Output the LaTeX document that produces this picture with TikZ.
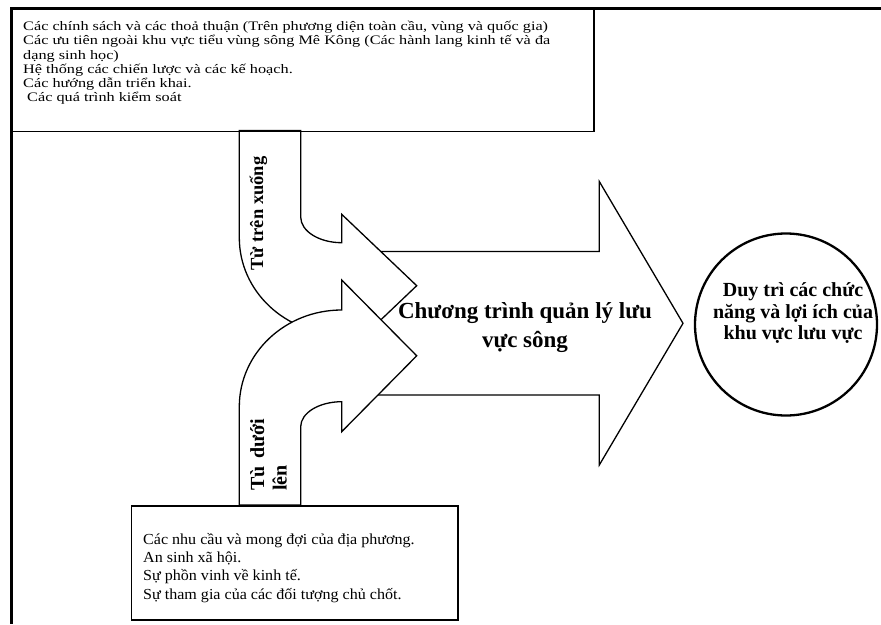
\documentclass[tikz,border=0pt]{standalone}
\usepackage{fontspec}
\setmainfont{Liberation Serif}
\newfontfamily\topboxfont[FakeStretch=1.25]{Liberation Serif}
\newfontfamily\botboxfont[FakeStretch=1.05]{Liberation Serif}
\begin{document}
\begin{tikzpicture}[x=1pt,y=-1pt,
  frameline/.style={line width=2.2pt},
  boxline/.style={draw, line width=1.8pt, inner sep=0pt, anchor=north west},
  arrowshape/.style={draw, fill=white, line width=1.3pt, line join=miter},
  plaintext/.style={inner sep=0pt, align=left, anchor=north west},
  boldtext/.style={inner sep=0pt, align=center, font=\bfseries}
]
\useasboundingbox (0,0) rectangle (881,624);
\fill[white] (0,0) rectangle (881,624);

% big arrow
\draw[arrowshape] (345,251.5) -- (599.3,251.5) -- (599.3,181.5) -- (683,323.3) -- (599.3,465) -- (599.3,395) -- (345,395) -- cycle;

% upper curved arrow
\draw[arrowshape] (239.3,130.5) -- (239.3,237.7) .. controls (239.3,291.1) and (285.1,334.4) .. (341.7,334.4) -- (341.7,357.1) -- (416.7,285.7) -- (341.7,214.3) -- (341.7,242.7) .. controls (319.1,242.7) and (300.7,231.2) .. (300.7,217) -- (300.7,130.5) -- cycle;

% lower curved arrow
\draw[arrowshape] (239.3,505) -- (239.3,406.7) .. controls (239.3,353.3) and (285.1,310) .. (341.7,310) -- (341.7,280) -- (416.7,355.8) -- (341.7,431.7) -- (341.7,401.7) .. controls (319.1,401.7) and (300.7,412.9) .. (300.7,426.7) -- (300.7,505) -- cycle;

% outer frame
\draw[frameline] (881,8.5) -- (11.5,8.5) -- (11.5,624);

% boxes
\node[boxline, minimum width=581.5pt, minimum height=122pt] (topbox) at (11.5,8.5) {};
\node[boxline, line width=1.5pt, minimum width=326.8pt, minimum height=114.3pt] (botbox) at (130.5,505) {};

% circle
\node[draw, circle, line width=2.3pt, minimum size=182pt, inner sep=0pt] (goal) at (786,324.5) {};

% texts
\node[plaintext, font=\topboxfont\fontsize{13}{14.2}\selectfont] (toptext) at (23,21)
  {Các chính sách và các thoả thuận (Trên phương diện toàn cầu, vùng và quốc gia)\\
   Các ưu tiên ngoài khu vực tiểu vùng sông Mê Kông (Các hành lang kinh tế và đa\\
   dạng sinh học)\\
   Hệ thống các chiến lược và các kế hoạch.\\
   Các hướng dẫn triển khai.\\
   \hspace*{4pt}Các quá trình kiểm soát};

\node[plaintext, font=\botboxfont\fontsize{15.3}{18.3}\selectfont] (bottext) at (143,533)
  {Các nhu cầu và mong đợi của địa phương.\\
   An sinh xã hội.\\
   Sự phồn vinh về kinh tế.\\
   Sự tham gia của các đối tượng chủ chốt.};

\node[boldtext, font=\bfseries\fontsize{23}{28.3}\selectfont] (prog) at (525,327.5)
  {Chương trình quản lý lưu\\vực sông};

\node[boldtext, font=\bfseries\fontsize{20}{21.5}\selectfont] (goaltext) at (793,313.5)
  {Duy trì các chức\\năng và lợi ích của\\khu vực lưu vực};

\node[boldtext, rotate=90, font=\bfseries\fontsize{18.5}{22.5}\selectfont] (down) at (258.5,213.5) {Từ trên xuống};

\node[boldtext, rotate=90, align=left, anchor=north west, font=\bfseries\fontsize{20}{22.5}\selectfont] (up) at (250,491) {Tù\hspace{0.38em}dưới\\lên};
\end{tikzpicture}
\end{document}
